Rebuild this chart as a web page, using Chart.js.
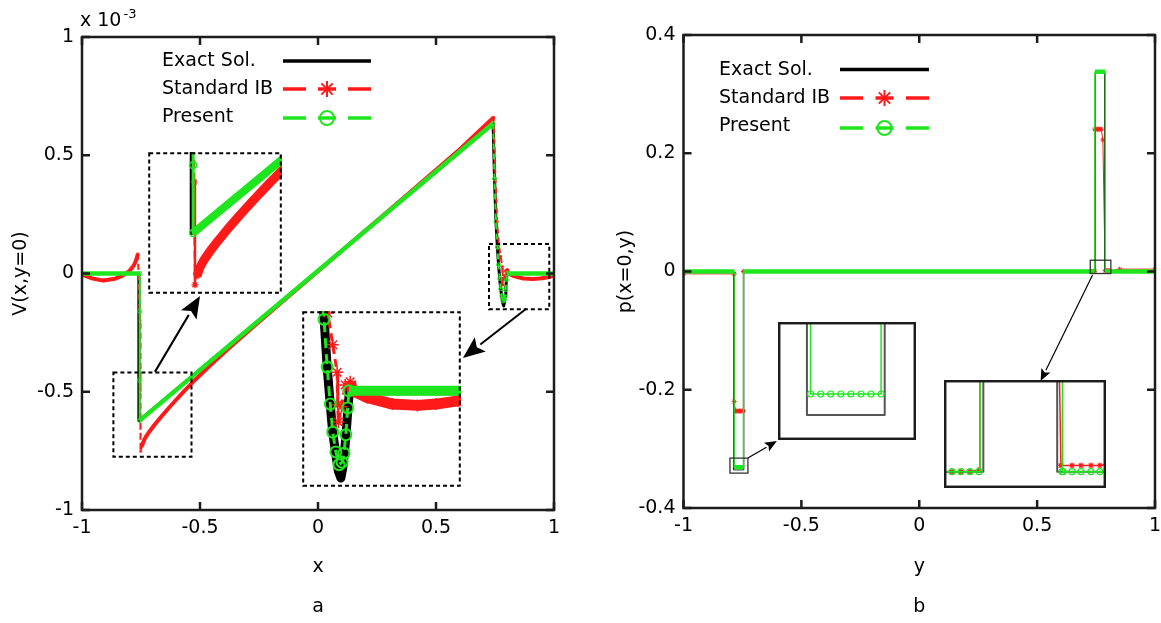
<!DOCTYPE html>
<html><head><meta charset="utf-8">
<script src="https://cdn.jsdelivr.net/npm/chart.js@4.4.1/dist/chart.umd.min.js"></script>
<style>
html,body{margin:0;padding:0;background:#fff;}
#wrap{position:relative;width:1161px;height:623px;overflow:hidden;background:#fff;}
#wrap canvas{position:absolute;}
</style></head><body>
<div id="wrap">
<canvas id="ca" width="580" height="623" style="left:0px;top:0px"></canvas>
<canvas id="cb" width="581" height="623" style="left:580px;top:0px"></canvas>
</div>
<script>
// ================= DATA =================
const seriesNames = ['Exact Sol.', 'Standard IB', 'Present'];

// ---- panel a : V(x,y=0) (x 1e-3) ----
const aXTicks = [-1, -0.5, 0, 0.5, 1];
const aXLabels = ['-1', '-0.5', '0', '0.5', '1'];
const aYTicks = [-1, -0.5, 0, 0.5, 1];
const aYLabels = ['-1', '-0.5', '0', '0.5', '1'];

const aExactX = [-1, -0.759, -0.759, 0.742, 0.748, 0.754, 0.760, 0.765, 0.770, 0.774, 0.779, 0.783, 0.787, 0.790, 0.793, 0.796, 0.799, 0.801, 1];
const aExactV = [0, 0, -0.622, 0.632, 0.40, 0.22, 0.115, 0.037, -0.022, -0.066, -0.100, -0.126, -0.137, -0.122, -0.095, -0.060, -0.020, 0, 0];

const aStdX = [-1, -0.96, -0.91, -0.86, -0.83, -0.80, -0.78, -0.77, -0.763, -0.754, -0.753, -0.751, -0.746, -0.739, -0.729, -0.714, -0.695, -0.670, -0.640, -0.605, -0.565, -0.520, -0.460, -0.380, -0.280, -0.150, 0, 0.30, 0.60, 0.744, 0.752, 0.759, 0.766, 0.774, 0.781, 0.782, 0.783, 0.788, 0.794, 0.802, 0.806, 0.83, 0.87, 0.91, 0.94, 0.975, 1];
const aStdV = [-0.005, -0.02, -0.03, -0.022, -0.01, 0.01, 0.035, 0.058, 0.083, -0.20, -0.494, -0.752, -0.730, -0.709, -0.690, -0.668, -0.643, -0.612, -0.577, -0.538, -0.495, -0.449, -0.391, -0.318, -0.230, -0.118, 0.010, 0.266, 0.524, 0.660, 0.40, 0.22, 0.122, 0.072, 0.029, -0.022, -0.049, -0.025, 0.009, 0.014, 0.0, -0.011, -0.021, -0.023, -0.021, -0.016, -0.008];

const aPresX = [-1, -0.7555, -0.7555, -0.7555, -0.7555, 0.742, 0.748, 0.754, 0.760, 0.765, 0.770, 0.774, 0.779, 0.784, 0.789, 0.792, 0.795, 0.798, 0.800, 1];
const aPresV = [0, 0, -0.16, -0.452, -0.622, 0.634, 0.40, 0.22, 0.112, 0.037, -0.021, -0.065, -0.096, -0.116, -0.112, -0.098, -0.069, -0.027, 0, 0];

// ---- panel b : p(x=0,y) ----
const bXTicks = [-1, -0.5, 0, 0.5, 1];
const bXLabels = ['-1', '-0.5', '0', '0.5', '1'];
const bYTicks = [-0.4, -0.2, 0, 0.2, 0.4];
const bYLabels = ['-0.4', '-0.2', '0', '0.2', '0.4'];

const bExactY = [-1, -0.787, -0.787, -0.744, -0.744, 0.7466, 0.7466, 0.7864, 0.7864, 1];
const bExactP = [0, 0, -0.3356, -0.3356, 0, 0, 0.335, 0.335, 0, 0];

const bStdY = [-1, -0.785, -0.785, -0.7794, -0.7739, -0.7683, -0.7627, -0.7571, -0.7516, -0.746, -0.746, 0.7297, 0.7346, 0.7394, 0.7443, 0.7448, 0.7503, 0.7558, 0.7614, 0.7669, 0.7724, 0.779, 0.7884, 0.7944, 0.7992, 0.8046, 0.8094, 0.85, 1];
const bStdP = [-0.004, -0.004, -0.220, -0.236, -0.236, -0.236, -0.236, -0.236, -0.236, -0.236, 0, 0, 0, 0, 0.0004, 0.2406, 0.2406, 0.2406, 0.2406, 0.2406, 0.2406, 0.2225, 0.0013, 0.0013, 0.0013, 0.0013, 0.0013, 0.004, 0.004];

const bPresY = [-1, -0.785, -0.785, -0.7794, -0.7739, -0.7683, -0.7627, -0.7571, -0.7516, -0.746, -0.746, 0.7297, 0.7346, 0.7394, 0.7443, 0.7448, 0.7503, 0.7558, 0.7614, 0.7669, 0.7724, 0.7780, 0.7835, 0.789, 0.789, 0.7895, 0.7944, 0.7992, 0.8046, 0.8094, 1];
const bPresP = [0, 0, -0.3311, -0.3311, -0.3311, -0.3311, -0.3311, -0.3311, -0.3311, -0.3311, 0, 0, 0, 0, 0, 0.338, 0.338, 0.338, 0.338, 0.338, 0.338, 0.338, 0.338, 0.338, 0, 0, 0, 0, 0, 0, 0];

// ---- zoom windows (data units of each panel) and where their enlargements sit ----
const aZoomLeft  = { x: [-0.867, -0.536], y: [-0.775, -0.419] };
const aZoomRight = { x: [0.7246, 0.980],  y: [-0.151, 0.125] };
const aPlaceLeft  = { x: [-0.720, -0.154], y: [0.515, -0.087] };
const aPlaceRight = { x: [-0.068, 0.606],  y: [-0.159, -0.903] };
const bZoomLeft  = { x: [-0.803, -0.7267], y: [-0.341, -0.3156] };
const bZoomRight = { x: [0.7254, 0.8127],  y: [-0.0034, 0.0191] };
const bPlaceLeft  = { x: [-0.600, -0.0148], y: [-0.0854, -0.2851] };
const bPlaceRight = { x: [0.1038, 0.7903],  y: [-0.1836, -0.3663] };

// ================= STYLE / HELPERS =================
const FONT = "'DejaVu Sans', 'Liberation Sans', sans-serif";
const FS = 19;
const RED = '#ff1a1a', GREEN = '#1ee61e';
Chart.defaults.font.family = FONT;
Chart.defaults.color = '#000';

const segLen = c => Math.hypot(c.p1.x - c.p0.x, c.p1.y - c.p0.y);
const steep = c => Math.abs(c.p1.y - c.p0.y) > 4 * Math.abs(c.p1.x - c.p0.x);
const steepOrShort = c => steep(c) || segLen(c) < 8;
const notFlat = c => Math.abs(c.p1.y - c.p0.y) > 0.5 * Math.abs(c.p1.x - c.p0.x);

function series(xs, ys, st) {
  const d = {
    data: xs.map((x, i) => ({ x: x, y: ys[i] })),
    showLine: true, tension: 0, order: st.order, fill: false,
    borderColor: st.color, borderWidth: st.w, borderCapStyle: st.cap || 'butt', borderJoinStyle: 'round',
    backgroundColor: 'rgba(0,0,0,0)',
    pointStyle: st.ps || 'circle', pointRadius: st.r || 0, pointBorderWidth: st.pbw || 1,
    pointBorderColor: st.color, pointBackgroundColor: 'rgba(0,0,0,0)'
  };
  if (st.thinIf) {
    d.segment = {
      borderWidth: c => st.thinIf(c) ? st.thin : st.w,
      borderDash: c => st.thinIf(c) ? (st.dash || []) : []
    };
  }
  return d;
}

function drawArrow(ctx, x1, y1, x2, y2, len, half, lw) {
  const ang = Math.atan2(y2 - y1, x2 - x1);
  const bx = x2 - len * Math.cos(ang), by = y2 - len * Math.sin(ang);
  ctx.setLineDash([]);
  ctx.strokeStyle = '#000'; ctx.fillStyle = '#000'; ctx.lineWidth = lw;
  ctx.beginPath(); ctx.moveTo(x1, y1); ctx.lineTo(bx, by); ctx.stroke();
  const nx = x2 - len * 0.8 * Math.cos(ang), ny = y2 - len * 0.8 * Math.sin(ang);
  ctx.beginPath(); ctx.moveTo(x2, y2);
  ctx.lineTo(bx + half * Math.sin(ang), by - half * Math.cos(ang));
  ctx.lineTo(nx, ny);
  ctx.lineTo(bx - half * Math.sin(ang), by + half * Math.cos(ang));
  ctx.closePath(); ctx.fill();
}

function seg(ctx, x1, y1, x2, y2) { ctx.beginPath(); ctx.moveTo(x1, y1); ctx.lineTo(x2, y2); ctx.stroke(); }

function drawLegend(ctx, L) {
  ctx.save();
  ctx.font = FS + 'px ' + FONT; ctx.fillStyle = '#000'; ctx.textAlign = 'left'; ctx.textBaseline = 'middle';
  seriesNames.forEach((n, i) => ctx.fillText(n, L.tx, L.ty[i]));
  const x1 = L.x1, x2 = L.x2, xm = (x1 + x2) / 2;
  ctx.setLineDash([]); ctx.lineCap = 'butt';
  ctx.strokeStyle = '#000'; ctx.lineWidth = 3.5; seg(ctx, x1, L.ly[0], x2, L.ly[0]);
  [[RED, 1, 'star'], [GREEN, 2, 'circle']].forEach(function (m) {
    const y = L.ly[m[1]];
    ctx.strokeStyle = m[0]; ctx.lineWidth = 3.5;
    seg(ctx, x1, y, x1 + 23, y); seg(ctx, xm - 9, y, xm + 9, y); seg(ctx, x2 - 23, y, x2, y);
    ctx.lineWidth = 2;
    if (m[2] === 'star') {
      const r = 8;
      for (let k = 0; k < 4; k++) {
        const a = k * Math.PI / 4;
        seg(ctx, xm - r * Math.cos(a), y - r * Math.sin(a), xm + r * Math.cos(a), y + r * Math.sin(a));
      }
    } else {
      ctx.beginPath(); ctx.arc(xm, y, 7, 0, Math.PI * 2); ctx.stroke();
    }
  });
  ctx.restore();
}

function decoPlugin(P) {
  return {
    id: 'deco',
    afterDatasetsDraw(chart) {
      const ctx = chart.ctx, xs = chart.scales.x, ys = chart.scales.y, A = chart.chartArea;
      ctx.save();
      // frame with inward ticks
      ctx.setLineDash([]);
      ctx.strokeStyle = '#1c1c1c'; ctx.lineWidth = 2.5;
      ctx.strokeRect(A.left, A.top, A.right - A.left, A.bottom - A.top);
      ctx.beginPath();
      P.xTicks.forEach(v => { const x = xs.getPixelForValue(v);
        ctx.moveTo(x, A.bottom); ctx.lineTo(x, A.bottom - 8); ctx.moveTo(x, A.top); ctx.lineTo(x, A.top + 8); });
      P.yTicks.forEach(v => { const y = ys.getPixelForValue(v);
        ctx.moveTo(A.left, y); ctx.lineTo(A.left + 8, y); ctx.moveTo(A.right, y); ctx.lineTo(A.right - 8, y); });
      ctx.stroke();
      // zoom windows
      P.boxes.forEach(b => {
        const x1 = xs.getPixelForValue(b.x[0]), x2 = xs.getPixelForValue(b.x[1]);
        const y1 = ys.getPixelForValue(b.y[0]), y2 = ys.getPixelForValue(b.y[1]);
        ctx.setLineDash(P.boxDash); ctx.lineWidth = P.boxLw; ctx.strokeStyle = P.boxColor;
        ctx.strokeRect(Math.min(x1, x2), Math.min(y1, y2), Math.abs(x2 - x1), Math.abs(y2 - y1));
      });
      // arrows
      P.arrows.forEach(a => drawArrow(ctx, xs.getPixelForValue(a.from[0]), ys.getPixelForValue(a.from[1]),
        xs.getPixelForValue(a.to[0]), ys.getPixelForValue(a.to[1]), P.head[0], P.head[1], P.head[2]));
      // legend + captions
      drawLegend(ctx, P.legend);
      ctx.fillStyle = '#000'; ctx.textAlign = 'center'; ctx.textBaseline = 'middle';
      ctx.font = FS + 'px ' + FONT;
      ctx.fillText(P.caption, (A.left + A.right) / 2, 607);
      if (P.exp) {
        ctx.textAlign = 'left'; ctx.textBaseline = 'alphabetic';
        ctx.fillText('x 10', 80, 26);
        const w = ctx.measureText('x 10').width;
        ctx.font = '13px ' + FONT;
        ctx.fillText('-3', 80 + w + 2, 18);
      }
      ctx.restore();
    }
  };
}

function mainChart(id, P) {
  return new Chart(document.getElementById(id), {
    type: 'scatter',
    data: { datasets: P.datasets },
    options: {
      responsive: false, maintainAspectRatio: false, animation: false, devicePixelRatio: 1, events: [],
      layout: { autoPadding: false, padding: { left: 0, top: P.area.top, right: P.area.right, bottom: 0 } },
      plugins: { legend: { display: false }, tooltip: { enabled: false } },
      scales: {
        x: {
          type: 'linear', position: 'bottom', min: -1, max: 1,
          afterBuildTicks: s => { s.ticks = P.xTicks.map(v => ({ value: v })); },
          afterFit: s => { s.height = P.area.xh; s.paddingLeft = 0; s.paddingRight = 0; },
          grid: { display: false, drawTicks: false }, border: { display: false },
          ticks: { font: { size: FS }, color: '#000', padding: 7, maxRotation: 0, autoSkip: false,
                   callback: (v, i) => P.xLabels[i] },
          title: { display: true, text: P.xTitle, font: { size: FS }, color: '#000', padding: { top: 0, bottom: P.area.xtb } }
        },
        y: {
          type: 'linear', position: 'left', min: P.yTicks[0], max: P.yTicks[P.yTicks.length - 1],
          afterBuildTicks: s => { s.ticks = P.yTicks.map(v => ({ value: v })); },
          afterFit: s => { s.width = P.area.yw; s.paddingTop = 0; s.paddingBottom = 0; },
          grid: { display: false, drawTicks: false }, border: { display: false },
          ticks: { font: { size: FS }, color: '#000', padding: 8, autoSkip: false,
                   callback: (v, i) => P.yLabels[i] },
          title: { display: true, text: P.yTitle, font: { size: FS }, color: '#000', padding: { top: P.area.ytp, bottom: 0 } }
        }
      }
    },
    plugins: [decoPlugin(P)]
  });
}

function insetChart(main, mainLeft, place, view, datasets, dashed) {
  const xs = main.scales.x, ys = main.scales.y;
  const x1 = xs.getPixelForValue(place.x[0]), x2 = xs.getPixelForValue(place.x[1]);
  const y1 = ys.getPixelForValue(place.y[0]), y2 = ys.getPixelForValue(place.y[1]);
  const c = document.createElement('canvas');
  const W = Math.round(Math.abs(x2 - x1)), H = Math.round(Math.abs(y2 - y1));
  c.width = W; c.height = H;
  c.style.left = Math.round(mainLeft + Math.min(x1, x2)) + 'px';
  c.style.top = Math.round(Math.min(y1, y2)) + 'px';
  document.getElementById('wrap').appendChild(c);
  return new Chart(c, {
    type: 'scatter',
    data: { datasets: datasets },
    options: {
      responsive: false, maintainAspectRatio: false, animation: false, devicePixelRatio: 1, events: [],
      layout: { autoPadding: false, padding: 0 },
      plugins: { legend: { display: false }, tooltip: { enabled: false } },
      scales: {
        x: { type: 'linear', display: false, min: view.x[0], max: view.x[1] },
        y: { type: 'linear', display: false, min: view.y[0], max: view.y[1] }
      }
    },
    plugins: [{
      id: 'insetFrame',
      beforeDraw(ch) { const g = ch.ctx; g.save(); g.fillStyle = '#fff'; g.fillRect(0, 0, ch.width, ch.height); g.restore(); },
      afterDraw(ch) {
        const g = ch.ctx; g.save();
        g.strokeStyle = dashed ? '#000' : '#1c1c1c'; g.lineWidth = dashed ? 2 : 2.5;
        g.setLineDash(dashed ? [4, 3] : []);
        g.strokeRect(1.2, 1.2, ch.width - 2.4, ch.height - 2.4);
        g.restore();
      }
    }]
  });
}

// ================= PANEL A =================
function setsA(k) {
  return [
    series(aExactX, aExactV, k.exact),
    series(aStdX, aStdV, k.std),
    series(aPresX, aPresV, k.pres)
  ];
}
const styleAMain = {
  exact: { color: '#000', w: 3, order: 2 },
  std: { color: RED, w: 4, thin: 2, dash: [6, 4], thinIf: steep, ps: 'star', r: 1.5, pbw: 1, order: 1 },
  pres: { color: GREEN, w: 4.5, thin: 2, dash: [6, 4], thinIf: steep, ps: 'circle', r: 2, pbw: 1, order: 0 }
};
const styleALeft = {
  exact: { color: '#000', w: 4, order: 2 },
  std: { color: RED, w: 9, thin: 2.5, dash: [8, 5], thinIf: steep, ps: 'star', r: 3.5, pbw: 1.3, order: 1 },
  pres: { color: GREEN, w: 8, thin: 3, dash: [8, 5], thinIf: steep, ps: 'circle', r: 3.5, pbw: 1.5, order: 0 }
};
const styleARight = {
  exact: { color: '#000', w: 9, cap: 'round', order: 2 },
  std: { color: RED, w: 11, thin: 3, dash: [8, 5], thinIf: steepOrShort, ps: 'star', r: 6, pbw: 1.5, order: 1 },
  pres: { color: GREEN, w: 10, thin: 3, dash: [10, 6], thinIf: steepOrShort, ps: 'circle', r: 5.5, pbw: 2, order: 0 }
};

const chartA = mainChart('ca', {
  datasets: setsA(styleAMain),
  area: { top: 37, right: 26, xh: 113, yw: 82, xtb: 45, ytp: 10 },
  xTicks: aXTicks, xLabels: aXLabels, yTicks: aYTicks, yLabels: aYLabels,
  xTitle: 'x', yTitle: 'V(x,y=0)', caption: 'a', exp: true,
  boxes: [aZoomLeft, aZoomRight], boxDash: [4, 3], boxLw: 2, boxColor: '#000',
  arrows: [ { from: [-0.691, -0.416], to: [-0.500, -0.095] },
            { from: [0.881, -0.150], to: [0.614, -0.357] } ],
  head: [22, 9, 2],
  legend: { tx: 162, ty: [61, 89, 117], x1: 283, x2: 371, ly: [61, 89, 118] }
});

insetChart(chartA, 0, aPlaceLeft, aZoomLeft, setsA(styleALeft), true);
insetChart(chartA, 0, aPlaceRight, aZoomRight, setsA(styleARight), true);

// ================= PANEL B =================
function setsB(k) {
  const out = [series(bExactY, bExactP, k.exact), series(bPresY, bPresP, k.pres)];
  if (k.std) out.push(series(bStdY, bStdP, k.std));
  return out;
}
const styleBMain = {
  exact: { color: '#222', w: 1, order: 1 },
  std: { color: RED, w: 1, ps: 'star', r: 2.5, pbw: 1, order: 2 },
  pres: { color: GREEN, w: 4.5, thin: 1.3, dash: [], thinIf: notFlat, ps: 'circle', r: 0, order: 0 }
};
const styleBLeft = {
  exact: { color: '#555', w: 2, order: 1 },
  std: { color: RED, w: 1.5, ps: 'star', r: 3, pbw: 1.2, order: 2 },
  pres: { color: GREEN, w: 1.5, ps: 'circle', r: 3, pbw: 1.2, order: 0 }
};
const styleBRight = {
  exact: { color: '#555', w: 2, order: 1 },
  std: { color: RED, w: 1.5, ps: 'star', r: 3, pbw: 1.2, order: 2 },
  pres: { color: GREEN, w: 1.5, ps: 'circle', r: 3, pbw: 1.2, order: 0 }
};

const chartB = mainChart('cb', {
  datasets: setsB(styleBMain),
  area: { top: 35, right: 6, xh: 115, yw: 103.5, xtb: 45, ytp: 35 },
  xTicks: bXTicks, xLabels: bXLabels, yTicks: bYTicks, yLabels: bYLabels,
  xTitle: 'y', yTitle: 'p(x=0,y)', caption: 'b', exp: false,
  boxes: [bZoomLeft, bZoomRight], boxDash: [], boxLw: 1.3, boxColor: '#333',
  arrows: [ { from: [-0.727, -0.3156], to: [-0.604, -0.2868] },
            { from: [0.7352, -0.0059], to: [0.5148, -0.1853] } ],
  head: [12, 5, 1.2],
  legend: { tx: 139, ty: [70, 98, 126], x1: 260, x2: 349, ly: [69.5, 98, 128] }
});

insetChart(chartB, 580, bPlaceLeft, bZoomLeft, setsB(styleBLeft), false);
insetChart(chartB, 580, bPlaceRight, bZoomRight, setsB(styleBRight), false);
</script>
</body></html>
